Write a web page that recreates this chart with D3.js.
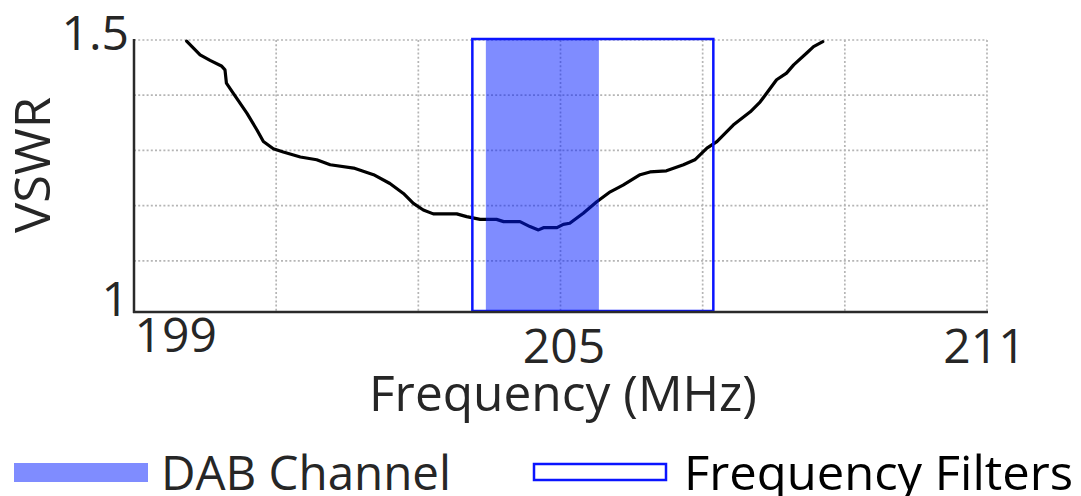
<!DOCTYPE html>
<html>
<head>
<meta charset="utf-8">
<script src="https://cdn.jsdelivr.net/npm/d3@7"></script>
<style>
  html, body { margin: 0; padding: 0; background: #fff; }
  svg { display: block; font-family: "Open Sans", "Noto Sans", sans-serif; }
</style>
</head>
<body>
<svg id="chart" width="1081" height="496"></svg>
<script>
// Measured VSWR of the antenna across the band (MHz)
const freq = [
  199.74, 199.93, 200.07, 200.23, 200.28, 200.30, 200.40, 200.59, 200.73, 200.82,
  200.96, 201.10, 201.34, 201.57, 201.76, 202.09, 202.37, 202.60, 202.79, 202.93,
  203.07, 203.21, 203.54, 203.68, 203.87, 204.10, 204.20, 204.43, 204.57, 204.69,
  204.76, 204.95, 205.04, 205.13, 205.32, 205.51, 205.70, 205.88, 206.12, 206.26,
  206.49, 206.73, 206.89, 207.06, 207.20, 207.43, 207.67, 207.81, 208.04, 208.18,
  208.28, 208.46, 208.56, 208.69
];
const vswr = [
  1.498, 1.473, 1.463, 1.453, 1.446, 1.422, 1.403, 1.367, 1.337, 1.316,
  1.303, 1.297, 1.288, 1.283, 1.274, 1.268, 1.256, 1.240, 1.222, 1.204,
  1.192, 1.185, 1.185, 1.180, 1.175, 1.175, 1.171, 1.171, 1.162, 1.156,
  1.160, 1.160, 1.166, 1.168, 1.186, 1.207, 1.225, 1.237, 1.256, 1.261,
  1.263, 1.274, 1.283, 1.304, 1.316, 1.346, 1.370, 1.388, 1.428, 1.440,
  1.455, 1.476, 1.488, 1.497
];

// Bands (MHz)
const dabChannel = [203.95, 205.54];
const filterBand = [203.76, 207.15];

// Axis ticks and grid
const xTickValues = [199, 205, 211];
const yTickValues = [1, 1.5];
const xGridValues = [201, 203, 205, 207, 209, 211];
const yGridValues = [1.1, 1.2, 1.3, 1.4, 1.5];

const legendLabels = ["DAB Channel", "Frequency Filters"];

const svg = d3.select("#chart");
const plotTop = 40, plotBottom = 312, plotLeft = 134, plotRight = 988;

const x = d3.scaleLinear().domain([199, 211]).range([134, 987]);
const y = d3.scaleLinear().domain([1, 1.5]).range([316, 40]);

const textColor = "#262626";

// Dotted grid
const grid = svg.append("g").attr("stroke", "#b5b5b5").attr("stroke-width", 1.7)
  .attr("stroke-dasharray", "2 2.2");
grid.selectAll("line.v").data(xGridValues).join("line").attr("class", "v")
  .attr("x1", d => x(d)).attr("x2", d => x(d))
  .attr("y1", plotTop).attr("y2", plotBottom);
grid.selectAll("line.h").data(yGridValues).join("line").attr("class", "h")
  .attr("x1", plotLeft).attr("x2", x(211))
  .attr("y1", d => y(d)).attr("y2", d => y(d));

// VSWR curve
const pts = freq.map((f, i) => [f, vswr[i]]);
svg.append("path").datum(pts)
  .attr("fill", "none").attr("stroke", "#000").attr("stroke-width", 3.2)
  .attr("stroke-linejoin", "round").attr("stroke-linecap", "round")
  .attr("d", d3.line().x(d => x(d[0])).y(d => y(d[1])));

// DAB channel band (translucent, laid over the curve)
svg.append("rect")
  .attr("x", x(dabChannel[0])).attr("width", x(dabChannel[1]) - x(dabChannel[0]))
  .attr("y", y(1.5)).attr("height", plotBottom - y(1.5))
  .attr("fill", "#0019ff").attr("fill-opacity", 0.5);

// Filter passband outline
svg.append("rect")
  .attr("x", x(filterBand[0])).attr("width", x(filterBand[1]) - x(filterBand[0]))
  .attr("y", y(1.5) - 1).attr("height", plotBottom - y(1.5))
  .attr("fill", "none").attr("stroke", "#0a14ff").attr("stroke-width", 2.5);

// Axis lines
svg.append("line").attr("x1", plotLeft).attr("x2", plotLeft)
  .attr("y1", plotTop - 1).attr("y2", plotBottom + 1)
  .attr("stroke", "#2a2a2a").attr("stroke-width", 2.5);
svg.append("line").attr("x1", plotLeft - 1).attr("x2", plotRight)
  .attr("y1", plotBottom).attr("y2", plotBottom)
  .attr("stroke", "#2a2a2a").attr("stroke-width", 2.5);

// X tick labels
const xAxis = svg.append("g").attr("transform", `translate(0,${plotBottom})`)
  .call(d3.axisBottom(x).tickValues(xTickValues).tickSize(0).tickFormat(d3.format("d")));
xAxis.select(".domain").remove();
xAxis.selectAll("text")
  .attr("font-family", "'Open Sans', sans-serif").attr("font-size", 48)
  .attr("fill", textColor).attr("dy", null).attr("y", 51);
xAxis.selectAll(".tick").filter(d => d === 199).select("text")
  .attr("text-anchor", "start").attr("x", 0).attr("y", 40);
xAxis.selectAll(".tick").filter(d => d === 205).select("text").attr("x", 3);
xAxis.selectAll(".tick").filter(d => d === 211).select("text").attr("x", -3);

// Y tick labels
const yAxis = svg.append("g").attr("transform", `translate(${plotLeft},0)`)
  .call(d3.axisLeft(y).tickValues(yTickValues).tickSize(0).tickFormat(d => d === 1 ? "1" : "1.5"));
yAxis.select(".domain").remove();
yAxis.selectAll("text")
  .attr("font-family", "'Open Sans', sans-serif").attr("font-size", 48)
  .attr("fill", textColor).attr("x", -5).attr("dy", null);
yAxis.selectAll(".tick").filter(d => d === 1.5).select("text").attr("y", 9);
yAxis.selectAll(".tick").filter(d => d === 1).select("text").attr("y", -1);

// Axis titles
svg.append("text").text("Frequency (MHz)")
  .attr("x", 369).attr("y", 411).attr("font-size", 49).attr("fill", textColor)
  .attr("textLength", 388).attr("lengthAdjust", "spacingAndGlyphs");
svg.append("text").text("VSWR")
  .attr("transform", "translate(50,165) rotate(-90)").attr("text-anchor", "middle")
  .attr("font-size", 49).attr("fill", textColor)
  .attr("textLength", 136).attr("lengthAdjust", "spacingAndGlyphs");

// Legend
const legend = svg.append("g");
legend.append("rect").attr("x", 14).attr("y", 463).attr("width", 134).attr("height", 19)
  .attr("fill", "#0019ff").attr("fill-opacity", 0.5);
legend.append("text").text(legendLabels[0])
  .attr("x", 161).attr("y", 490).attr("font-size", 48).attr("fill", textColor)
  .attr("textLength", 290).attr("lengthAdjust", "spacingAndGlyphs");
legend.append("rect").attr("x", 534).attr("y", 464).attr("width", 132).attr("height", 16)
  .attr("fill", "#fff").attr("stroke", "#0a14ff").attr("stroke-width", 2.5);
legend.append("text").text(legendLabels[1])
  .attr("x", 684).attr("y", 490).attr("font-size", 48).attr("fill", "#000")
  .attr("textLength", 389).attr("lengthAdjust", "spacingAndGlyphs");
</script>
</body>
</html>
